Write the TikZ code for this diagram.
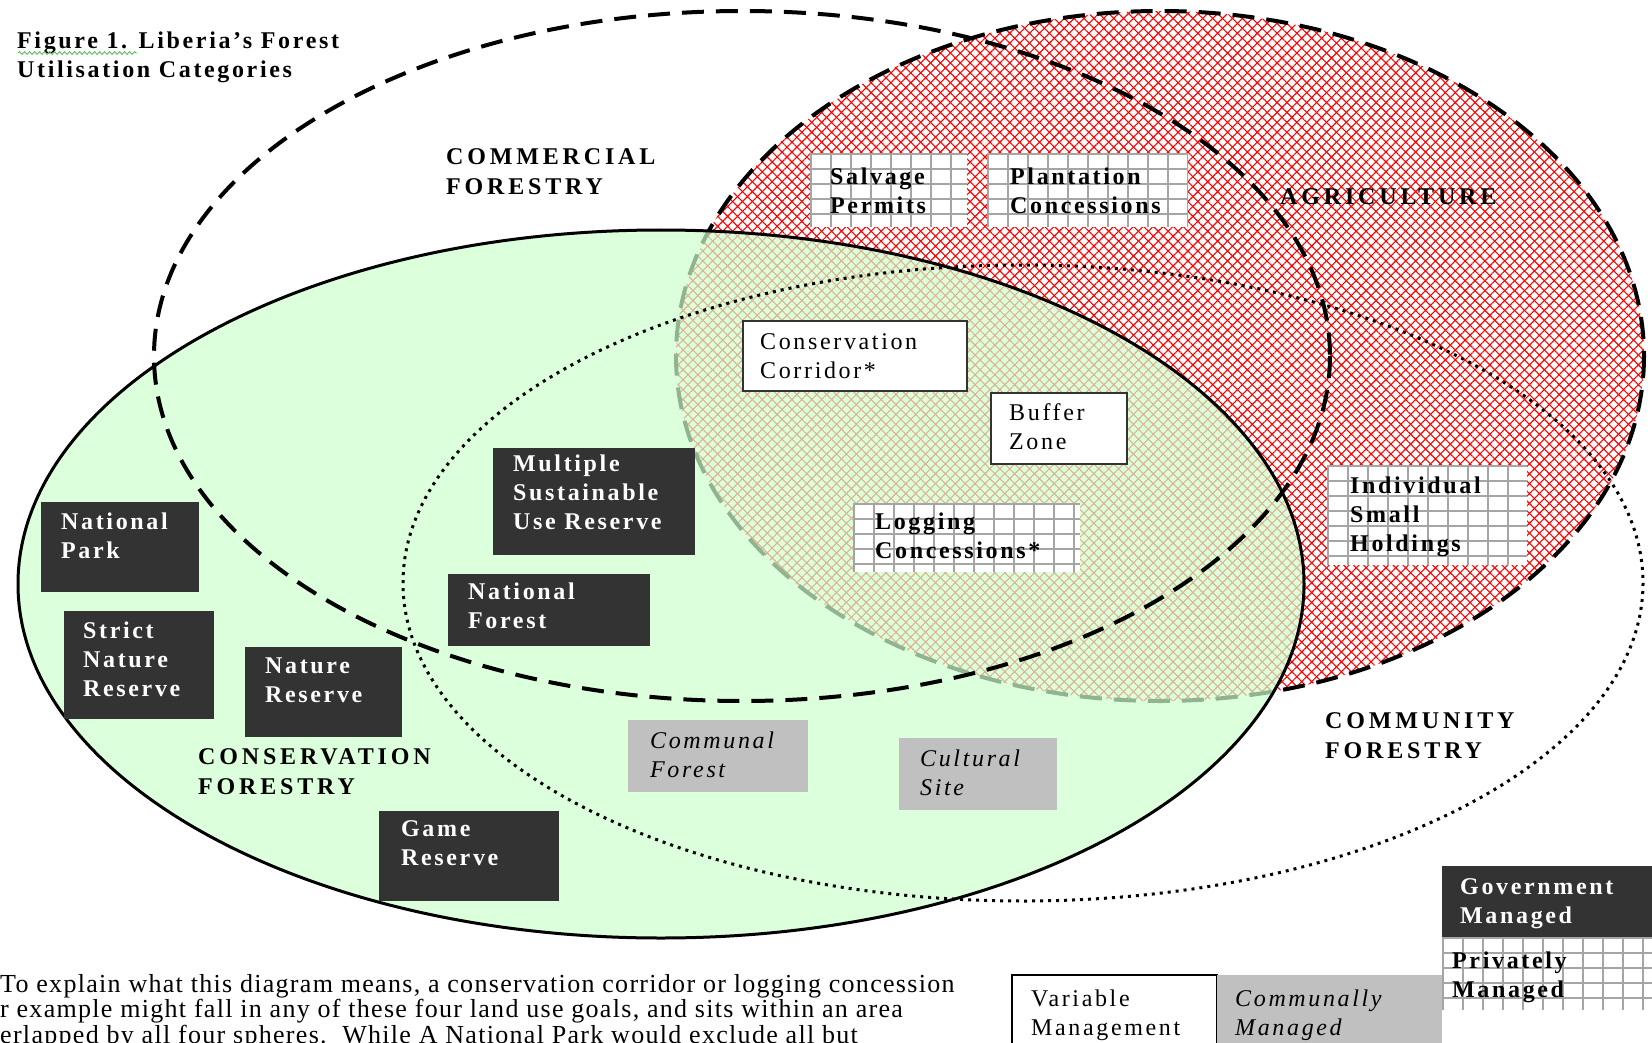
\documentclass[tikz,border=0pt]{standalone}
\usepackage{fontspec}
\setmainfont{Liberation Serif}[LetterSpace=11]
\newfontfamily\capsfont{Liberation Serif}[LetterSpace=16]
\newfontfamily\parafont{Liberation Serif}[LetterSpace=5]
\usetikzlibrary{patterns.meta,decorations.pathmorphing}
\definecolor{boxdark}{RGB}{51,51,51}
\definecolor{boxgray}{RGB}{192,192,192}
\definecolor{gridgray}{RGB}{165,165,165}
\definecolor{consgreen}{RGB}{206,255,206}
\definecolor{squiggle}{RGB}{90,190,90}
\tikzset{
  txt/.style={font=\fontsize{24}{29}\selectfont, align=left, inner sep=0pt, anchor=north west},
  btxt/.style={txt, font=\fontsize{24}{29}\selectfont\bfseries},
  wbtxt/.style={btxt, text=white},
  itxt/.style={txt, font=\fontsize{24}{29}\selectfont\itshape},
  capslabel/.style={txt, font=\fontsize{24}{30}\selectfont\capsfont\bfseries},
  paratxt/.style={txt, font=\fontsize{26}{25.5}\selectfont\parafont},
  boxbase/.style={rectangle, anchor=north west, inner sep=0pt, outer sep=0pt},
  darkbox/.style={boxbase, fill=boxdark},
  graybox/.style={boxbase, fill=boxgray},
  whitebox/.style={boxbase, fill=white, draw=boxdark, line width=1.5pt},
  gridbox/.style={boxbase, fill=white, path picture={
      \foreach \k in {0,...,12} {
        \draw[gridgray, line width=1.3pt]
          ([xshift=\k*20pt+1pt]path picture bounding box.north west) --
          ([xshift=\k*20pt+1pt]path picture bounding box.south west);
      }
      \foreach \k in {0,...,7} {
        \draw[gridgray, line width=1.3pt]
          ([yshift=-\k*15pt-1pt]path picture bounding box.north west) --
          ([yshift=-\k*15pt-1pt]path picture bounding box.north east);
      }
  }},
  dashedring/.style={line width=4pt, dash pattern=on 22pt off 12pt},
  dottedring/.style={line width=3pt, dash pattern=on 3pt off 5pt},
  hatchA/.style={pattern={Lines[angle=45,distance=7pt,line width=1.1pt]}, pattern color=red},
  hatchB/.style={pattern={Lines[angle=-45,distance=7pt,line width=1.1pt]}, pattern color=red},
}
\begin{document}
\begin{tikzpicture}[x=1pt,y=-1pt]
\useasboundingbox (0,0) rectangle (1652,1043);
\clip (0,0) rectangle (1652,1043);
\fill[white] (0,0) rectangle (1652,1043);

% Agriculture sphere
\fill[hatchA] (1160,356) ellipse [x radius=484, y radius=345];
\fill[hatchB] (1160,356) ellipse [x radius=484, y radius=345];
\draw[dashedring] (1160,356) ellipse [x radius=484, y radius=345];

% Conservation forestry sphere
\fill[consgreen, fill opacity=0.7] (661,584) ellipse [x radius=643, y radius=354];
\draw[line width=3pt] (661,584) ellipse [x radius=643, y radius=354];

% Commercial forestry sphere
\draw[dashedring] (742,356) ellipse [x radius=588, y radius=345];

% Community forestry sphere
\draw[dottedring] (1023,583) ellipse [x radius=620, y radius=318];

% Title
\node[btxt] (title) at (17,32) {Figure 1. Liberia’s Forest\\Utilisation Categories};
\draw[squiggle, line width=0.9pt, decorate, decoration={snake, amplitude=1.4pt, segment length=5pt}] (18,53) -- (137,53);

% Sphere labels
\node[capslabel] (lblcom) at (446,148) {COMMERCIAL\\FORESTRY};
\node[capslabel] (lblagr) at (1280,188) {AGRICULTURE};
\node[capslabel] (lblcon) at (198,748) {CONSERVATION\\FORESTRY};
\node[capslabel] (lblcmt) at (1325,712) {COMMUNITY\\FORESTRY};

% Government managed (dark) boxes
\node[darkbox, minimum width=158, minimum height=90] (np) at (41,502) {};
\node[wbtxt] (npt) at (61,513) {National\\Park};
\node[darkbox, minimum width=150, minimum height=108] (snr) at (64,611) {};
\node[wbtxt] (snrt) at (83,622) {Strict\\Nature\\Reserve};
\node[darkbox, minimum width=157, minimum height=90] (nr) at (245,647) {};
\node[wbtxt] (nrt) at (265,658) {Nature\\Reserve};
\node[darkbox, minimum width=202, minimum height=107] (msur) at (493,448) {};
\node[wbtxt] (msurt) at (513,455) {Multiple\\Sustainable\\Use Reserve};
\node[darkbox, minimum width=202, minimum height=72] (nf) at (448,574) {};
\node[wbtxt] (nft) at (468,583) {National\\Forest};
\node[darkbox, minimum width=180, minimum height=90] (gr) at (379,811) {};
\node[wbtxt] (grt) at (401,820) {Game\\Reserve};

% Communally managed (grey) boxes
\node[graybox, minimum width=180, minimum height=72] (cf) at (628,720) {};
\node[itxt] (cft) at (650,732) {Communal\\Forest};
\node[graybox, minimum width=158, minimum height=72] (cs) at (899,738) {};
\node[itxt] (cst) at (920,750) {Cultural\\Site};

% Variable management (white) boxes
\node[whitebox, minimum width=224, minimum height=70] (cc) at (743,321) {};
\node[txt] (cct) at (760,333) {Conservation\\Corridor*};
\node[whitebox, minimum width=136, minimum height=71] (bz) at (991,393) {};
\node[txt] (bzt) at (1009,403) {Buffer\\Zone};

% Privately managed (grid) boxes
\node[gridbox, minimum width=157, minimum height=74] (sp) at (810,153) {};
\node[btxt] (spt) at (830,168) {Salvage\\Permits};
\node[gridbox, minimum width=201, minimum height=74] (pc) at (987,153) {};
\node[btxt] (pct) at (1010,168) {Plantation\\Concessions};
\node[gridbox, minimum width=200, minimum height=100] (ish) at (1327,465) {};
\node[btxt] (isht) at (1350,477) {Individual\\Small\\Holdings};
\node[gridbox, minimum width=227, minimum height=69] (lc) at (853,503) {};
\node[btxt] (lct) at (875,513) {Logging\\Concessions*};

% Legend
\node[darkbox, minimum width=210, minimum height=71] (lgov) at (1442,866) {};
\node[wbtxt] (lgovt) at (1460,878) {Government\\Managed};
\node[gridbox, minimum width=210, minimum height=73] (lpriv) at (1442,937) {};
\node[btxt] (lprivt) at (1452,952) {Privately\\Managed};
\node[boxbase, fill=white, draw=black, line width=2pt, minimum width=205, minimum height=90] (lvar) at (1012,975) {};
\node[txt] (lvart) at (1031,990) {Variable\\Management};
\node[graybox, minimum width=225, minimum height=80] (lcom) at (1217,975) {};
\node[itxt] (lcomt) at (1235,990) {Communally\\Managed};

% Explanatory text (cut by the page edge, as in the figure)
\node[paratxt] (para) at (0,974) {To explain what this diagram means, a conservation corridor or logging concession\\r example might fall in any of these four land use goals, and sits within an area\\erlapped by all four spheres.\ \ While A National Park would exclude all but};
\end{tikzpicture}
\end{document}
